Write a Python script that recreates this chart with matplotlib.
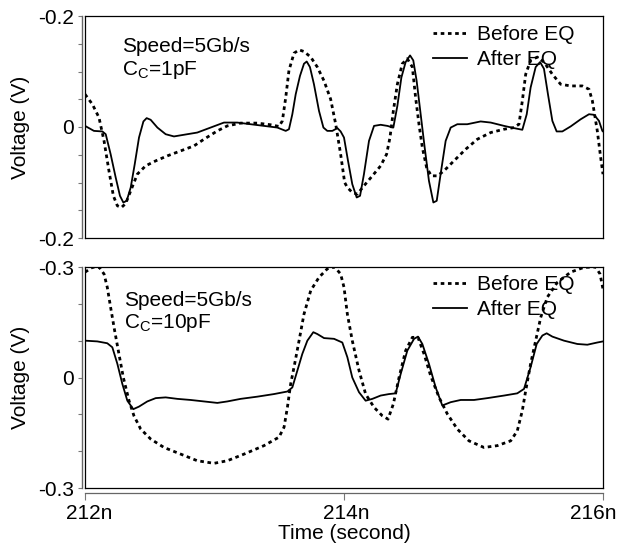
import matplotlib
matplotlib.use("Agg")
import matplotlib.pyplot as plt
import numpy as np
from matplotlib.ticker import FixedLocator, FixedFormatter
from matplotlib.transforms import ScaledTranslation

plt.rcParams['font.family'] = ['Liberation Sans', 'DejaVu Sans']
plt.rcParams['mathtext.default'] = 'regular'

# time axis in ns, offsets from 212n
t0 = 212.0

# top panel (Cc=1pF)
top_after_t = [0.000, 0.069, 0.134, 0.160, 0.198, 0.237, 0.270, 0.296, 0.322, 0.353,
               0.384, 0.417, 0.451, 0.476, 0.507, 0.559, 0.623, 0.687, 0.764, 0.867,
               0.970, 1.073, 1.176, 1.279, 1.382, 1.485, 1.550, 1.575, 1.601, 1.627,
               1.660, 1.691, 1.712, 1.737, 1.768, 1.807, 1.841, 1.871, 1.910, 1.949,
               1.974, 2.000, 2.031, 2.064, 2.098, 2.124, 2.154, 2.193, 2.232, 2.283,
               2.335, 2.381, 2.412, 2.443, 2.476, 2.510, 2.535, 2.561, 2.592, 2.623,
               2.656, 2.690, 2.716, 2.746, 2.785, 2.824, 2.875, 2.952, 3.055, 3.133,
               3.236, 3.313, 3.377, 3.411, 3.441, 3.480, 3.514, 3.544, 3.575, 3.609,
               3.642, 3.686, 3.750, 3.828, 3.892, 3.931, 3.969, 3.995, 4.000]
top_after_v = [0.002, -0.007, -0.008, -0.013, -0.049, -0.091, -0.124, -0.136, -0.133, -0.109,
               -0.067, -0.019, 0.010, 0.016, 0.013, -0.001, -0.013, -0.017, -0.014, -0.010,
               -0.001, 0.008, 0.008, 0.005, 0.002, -0.001, -0.007, -0.004, 0.023, 0.059,
               0.092, 0.114, 0.118, 0.108, 0.077, 0.029, -0.001, -0.007, -0.007, -0.002,
               -0.008, -0.019, -0.061, -0.103, -0.127, -0.124, -0.085, -0.025, 0.002, 0.004,
               0.002, -0.001, 0.038, 0.089, 0.117, 0.129, 0.120, 0.083, 0.023, -0.037,
               -0.097, -0.136, -0.133, -0.085, -0.025, -0.001, 0.005, 0.005, 0.010, 0.008,
               0.002, -0.002, -0.005, 0.023, 0.071, 0.108, 0.117, 0.105, 0.059, 0.011,
               -0.008, -0.008, 0.001, 0.014, 0.023, 0.022, 0.011, -0.007, -0.008]
top_before_t = [0.000, 0.057, 0.108, 0.147, 0.185, 0.219, 0.250, 0.281, 0.314, 0.353,
                0.404, 0.468, 0.546, 0.636, 0.739, 0.842, 0.919, 1.022, 1.099, 1.202,
                1.331, 1.434, 1.498, 1.524, 1.550, 1.575, 1.614, 1.653, 1.691, 1.743,
                1.794, 1.846, 1.897, 1.936, 1.974, 2.005, 2.026, 2.064, 2.103, 2.154,
                2.219, 2.283, 2.329, 2.355, 2.381, 2.412, 2.450, 2.489, 2.528, 2.553,
                2.579, 2.605, 2.638, 2.674, 2.721, 2.772, 2.849, 2.940, 3.030, 3.133,
                3.236, 3.313, 3.351, 3.377, 3.403, 3.441, 3.493, 3.544, 3.609, 3.673,
                3.750, 3.840, 3.892, 3.918, 3.956, 3.982, 4.000]
top_before_v = [0.059, 0.041, 0.017, -0.025, -0.079, -0.124, -0.142, -0.145, -0.138, -0.115,
                -0.085, -0.070, -0.061, -0.052, -0.043, -0.034, -0.022, -0.007, 0.002, 0.007,
                0.007, 0.004, 0.001, 0.011, 0.053, 0.102, 0.133, 0.139, 0.136, 0.126,
                0.108, 0.083, 0.050, 0.005, -0.049, -0.100, -0.109, -0.118, -0.121, -0.106,
                -0.088, -0.070, -0.049, -0.019, 0.029, 0.077, 0.114, 0.123, 0.108, 0.053,
                0.005, -0.037, -0.073, -0.088, -0.088, -0.079, -0.061, -0.040, -0.022, -0.010,
                -0.004, -0.001, 0.005, 0.047, 0.095, 0.120, 0.126, 0.117, 0.095, 0.077,
                0.074, 0.074, 0.068, 0.047, -0.007, -0.055, -0.085]

# bottom panel (Cc=10pF)
bot_after_t = [0.000, 0.095, 0.172, 0.211, 0.250, 0.288, 0.327, 0.373, 0.417, 0.481,
               0.546, 0.623, 0.713, 0.816, 0.919, 1.022, 1.099, 1.202, 1.331, 1.459,
               1.563, 1.601, 1.640, 1.678, 1.717, 1.763, 1.794, 1.846, 1.923, 1.987,
               2.026, 2.064, 2.116, 2.167, 2.219, 2.283, 2.347, 2.399, 2.438, 2.489,
               2.541, 2.571, 2.605, 2.656, 2.708, 2.759, 2.824, 2.901, 3.004, 3.107,
               3.236, 3.338, 3.390, 3.441, 3.488, 3.532, 3.565, 3.609, 3.699, 3.802,
               3.879, 3.956, 4.000]
bot_after_v = [0.100, 0.098, 0.093, 0.082, 0.037, -0.017, -0.063, -0.086, -0.079, -0.065,
               -0.056, -0.054, -0.058, -0.061, -0.065, -0.069, -0.065, -0.058, -0.052, -0.045,
               -0.038, -0.027, 0.019, 0.064, 0.100, 0.123, 0.118, 0.107, 0.105, 0.095,
               0.055, 0.000, -0.040, -0.063, -0.058, -0.049, -0.045, -0.043, 0.010, 0.073,
               0.105, 0.111, 0.091, 0.037, -0.027, -0.076, -0.067, -0.061, -0.061, -0.056,
               -0.049, -0.043, -0.031, 0.028, 0.091, 0.114, 0.120, 0.111, 0.100, 0.091,
               0.089, 0.095, 0.098]
bot_before_t = [0.000, 0.057, 0.108, 0.147, 0.172, 0.198, 0.229, 0.262, 0.296, 0.340,
                0.378, 0.430, 0.507, 0.610, 0.739, 0.867, 0.996, 1.099, 1.228, 1.382,
                1.498, 1.537, 1.563, 1.588, 1.619, 1.653, 1.691, 1.743, 1.807, 1.871,
                1.928, 1.974, 2.000, 2.026, 2.064, 2.116, 2.167, 2.232, 2.296, 2.340,
                2.381, 2.425, 2.476, 2.528, 2.571, 2.618, 2.669, 2.734, 2.798, 2.875,
                2.965, 3.081, 3.184, 3.287, 3.338, 3.377, 3.403, 3.441, 3.480, 3.519,
                3.570, 3.647, 3.750, 3.853, 3.943, 3.977, 4.000]
bot_before_v = [0.286, 0.299, 0.300, 0.281, 0.245, 0.190, 0.127, 0.064, 0.000, -0.063,
                -0.104, -0.140, -0.167, -0.190, -0.208, -0.226, -0.233, -0.226, -0.208, -0.185,
                -0.162, -0.135, -0.081, -0.018, 0.037, 0.100, 0.172, 0.236, 0.272, 0.295,
                0.300, 0.281, 0.245, 0.172, 0.100, 0.019, -0.045, -0.081, -0.104, -0.113,
                -0.072, 0.000, 0.073, 0.109, 0.109, 0.064, 0.005, -0.054, -0.099, -0.140,
                -0.172, -0.190, -0.185, -0.172, -0.145, -0.090, -0.036, 0.037, 0.100, 0.163,
                0.218, 0.258, 0.286, 0.299, 0.300, 0.281, 0.240]

x_ticks = [212, 214, 216]
x_ticklabels = ['212n', '214n', '216n']
x_label_shift = [4, 2, -10]  # px, labels nudged as in the original

W, H = 622, 548
fig = plt.figure(figsize=(W / 100, H / 100), dpi=100)


def px(x, y):
    return x / W, 1 - y / H


def setup_axes(rect, lim, major, majlabels, minor, bottom_axis):
    left, top, right, bottom = rect
    ax = fig.add_axes([left / W, 1 - bottom / H, (right - left) / W, (bottom - top) / H])
    ax.set_xlim(212, 216)
    ax.set_ylim(-lim, lim)
    for s in ['top', 'right', 'bottom']:
        ax.spines[s].set_color('k')
        ax.spines[s].set_linewidth(0.9)
    ax.spines['left'].set_position(('outward', 2.4))
    ax.spines['left'].set_color('#666666')
    ax.spines['left'].set_linewidth(1.0)
    # box edge on the left
    ax.plot([0, 0], [0, 1], transform=ax.transAxes, color='k', lw=0.9, clip_on=False)
    ax.yaxis.set_major_locator(FixedLocator(major))
    ax.yaxis.set_major_formatter(FixedFormatter(majlabels))
    ax.yaxis.set_minor_locator(FixedLocator(minor))
    ax.tick_params(axis='y', which='both', length=3, width=0.8, color='#777777',
                   pad=2.5, labelsize=15)
    if bottom_axis:
        ax.spines['bottom'].set_position(('outward', 3.3))
        ax.spines['bottom'].set_color('#666666')
        ax.plot([0, 1], [0, 0], transform=ax.transAxes, color='k', lw=0.9, clip_on=False)
        ax.set_xticks(x_ticks)
        ax.set_xticklabels(x_ticklabels)
        ax.tick_params(axis='x', length=5, width=0.8, color='#777777', pad=3, labelsize=15)
    else:
        ax.set_xticks([])
    ax.set_ylabel('Voltage (V)', fontsize=15, labelpad=6)
    return ax


dot_style = dict(color='k', lw=2.0, linestyle=(0, (1.3, 1.3)))
solid_style = dict(color='k', lw=1.3)

ax1 = setup_axes((85, 16, 603, 238), 0.2, [-0.2, 0, 0.2], ['-0.2', '0', '-0.2'],
                 [-0.15, -0.1, -0.05, 0.05, 0.1, 0.15], False)
ax1.plot(t0 + np.array(top_before_t), top_before_v, label='Before EQ', **dot_style)
ax1.plot(t0 + np.array(top_after_t), top_after_v, label='After EQ', **solid_style)

ax2 = setup_axes((85, 267, 603, 488), 0.3, [-0.3, 0, 0.3], ['-0.3', '0', '-0.3'],
                 [-0.2, -0.1, 0.1, 0.2], True)
ax2.plot(t0 + np.array(bot_before_t), bot_before_v, label='Before EQ', **dot_style)
ax2.plot(t0 + np.array(bot_after_t), bot_after_v, label='After EQ', **solid_style)
ax2.set_xlabel('Time (second)', fontsize=15, labelpad=1)

for lab, dx in zip(ax2.get_xticklabels(), x_label_shift):
    lab.set_transform(lab.get_transform() + ScaledTranslation(dx / 100, 0, fig.dpi_scale_trans))

for ax, ytop in [(ax1, 25), (ax2, 275)]:
    ax.legend(loc='upper left', bbox_to_anchor=px(433, ytop), bbox_transform=fig.transFigure,
              frameon=False, fontsize=15, borderpad=0, borderaxespad=0,
              handlelength=1.65, handletextpad=0.45, labelspacing=0.3)

fig.text(*px(122, 47), 'Speed=5Gb/s', fontsize=15, va='center')
fig.text(*px(122, 70), 'C$_C$=1pF', fontsize=15, va='center')
fig.text(*px(124, 300), 'Speed=5Gb/s', fontsize=15, va='center')
fig.text(*px(124, 323), 'C$_C$=10pF', fontsize=15, va='center')

fig.savefig('out.png', dpi=100)
